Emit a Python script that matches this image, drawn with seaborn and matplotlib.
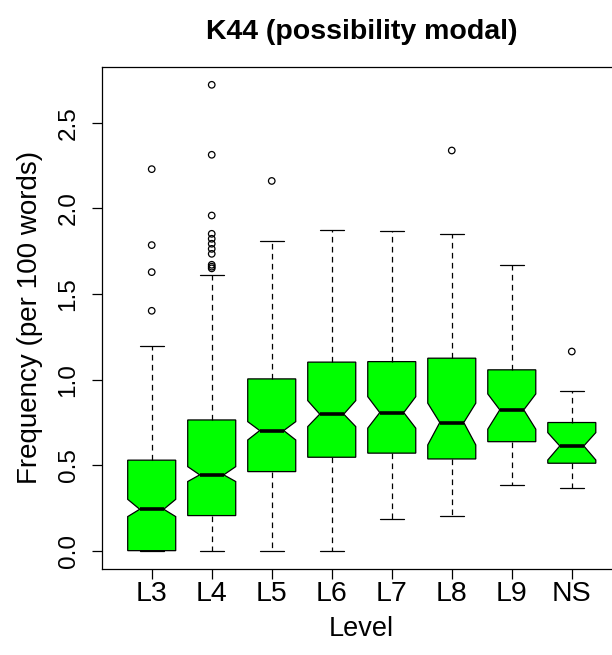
import matplotlib
matplotlib.use("Agg")
import matplotlib.pyplot as plt
import seaborn as sns
import pandas as pd

levels = ["L3", "L4", "L5", "L6", "L7", "L8", "L9", "NS"]
whislo = [0.0, 0.0, 0.0, 0.0, 0.185, 0.203, 0.384, 0.365]
q1 = [0.0, 0.205, 0.462, 0.546, 0.570, 0.536, 0.637, 0.511]
med = [0.242, 0.443, 0.702, 0.798, 0.807, 0.749, 0.823, 0.612]
q3 = [0.529, 0.764, 1.004, 1.102, 1.105, 1.125, 1.057, 0.749]
whishi = [1.199, 1.612, 1.811, 1.875, 1.869, 1.852, 1.671, 0.936]
cilo = [0.199, 0.404, 0.647, 0.725, 0.716, 0.618, 0.710, 0.530]
cihi = [0.300, 0.491, 0.754, 0.877, 0.900, 0.862, 0.916, 0.690]
outliers = {
    "L3": [2.23, 1.786, 1.628, 1.402],
    "L4": [2.723, 2.314, 1.959, 1.852, 1.823, 1.794, 1.764, 1.735, 1.671, 1.660, 1.650],
    "L5": [2.161],
    "L8": [2.339],
    "NS": [1.164],
}
yticks = [0.0, 0.5, 1.0, 1.5, 2.0, 2.5]

sns.set_style("white")
plt.rcParams["font.family"] = ["Liberation Sans", "DejaVu Sans"]
plt.rcParams.update({"text.color": "black", "axes.labelcolor": "black",
                     "xtick.color": "black", "ytick.color": "black",
                     "axes.edgecolor": "black"})

fig = plt.figure(figsize=(6.12, 6.55), dpi=100)
ax = fig.add_axes([102.5 / 612, (655 - 569.3) / 655, (621 - 102.5) / 612, (569.3 - 66.5) / 655])

positions = list(range(1, len(levels) + 1))
stats = []
for i, lv in enumerate(levels):
    stats.append(dict(label=lv, whislo=whislo[i], q1=q1[i], med=med[i], q3=q3[i],
                      whishi=whishi[i], cilo=cilo[i], cihi=cihi[i], fliers=[]))

ax.bxp(stats, positions=positions, widths=0.8, capwidths=0.4, shownotches=True,
       patch_artist=True, showfliers=False,
       boxprops=dict(facecolor="#00ff00", edgecolor="black", linewidth=0.9),
       medianprops=dict(color="black", linewidth=2.6, solid_capstyle="butt"),
       whiskerprops=dict(color="black", linewidth=0.9, linestyle=(0, (4.5, 3.5))),
       capprops=dict(color="black", linewidth=0.9))

rows = []
for lv, vals in outliers.items():
    for v in vals:
        rows.append({"pos": levels.index(lv) + 1, "value": v})
df_out = pd.DataFrame(rows)
sns.scatterplot(data=df_out, x="pos", y="value", ax=ax, marker="o", s=22,
                facecolor="none", edgecolor="black", linewidth=0.9, zorder=5)

ax.set_xlim(0.18, 8.82)
ax.set_ylim(-0.109, 2.83)
ax.set_xticks(positions)
ax.set_xticklabels(levels, fontsize=20.5)
ax.set_yticks(yticks)
ax.set_yticklabels([f"{t:.1f}" for t in yticks], fontsize=17.5, rotation=90, va="center")
ax.tick_params(axis="both", direction="out", length=7.3, width=0.9, color="black",
               left=True, bottom=True)
ax.tick_params(axis="x", pad=1.2)
ax.tick_params(axis="y", pad=9.2)
for sp in ax.spines.values():
    sp.set_color("black")
    sp.set_linewidth(0.9)
ax.set_xlabel("Level", fontsize=19.5, labelpad=6.7)
ax.set_ylabel("Frequency (per 100 words)", fontsize=20, labelpad=10.5)
ax.set_title("K44 (possibility modal)", fontsize=20.5, fontweight="bold", pad=20)
ax.grid(False)

fig.savefig("out.png", dpi=100)
